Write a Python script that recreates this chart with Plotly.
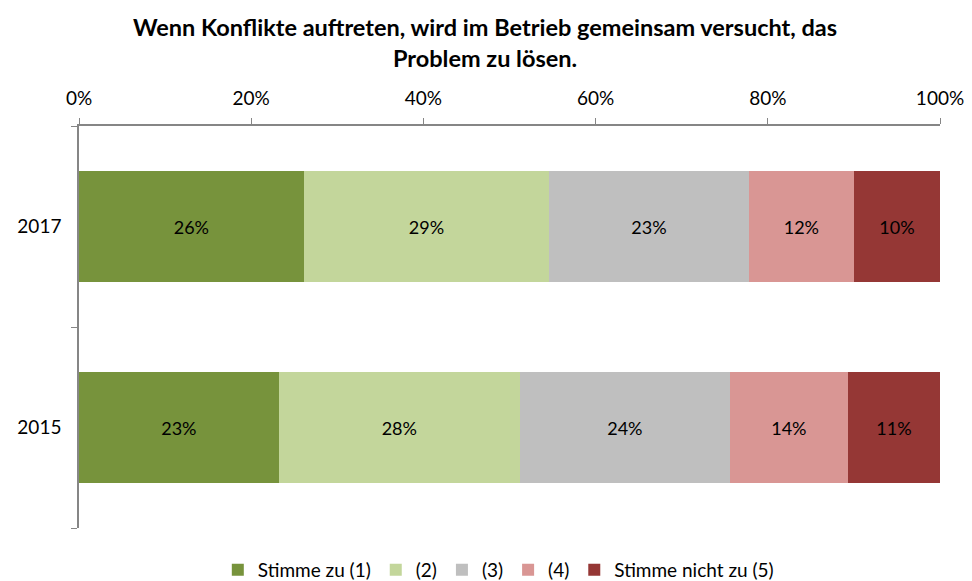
import plotly.graph_objects as go

years = ["2015", "2017"]
series_names = ["Stimme zu (1)", "(2)", "(3)", "(4)", "Stimme nicht zu (5)"]
values = {
    "Stimme zu (1)": [23.2, 26.1],
    "(2)": [28.0, 28.5],
    "(3)": [24.4, 23.2],
    "(4)": [13.7, 12.2],
    "Stimme nicht zu (5)": [10.7, 10.0],
}
labels = {
    "Stimme zu (1)": ["23%", "26%"],
    "(2)": ["28%", "29%"],
    "(3)": ["24%", "23%"],
    "(4)": ["14%", "12%"],
    "Stimme nicht zu (5)": ["11%", "10%"],
}
colors = ["#77933C", "#C3D69B", "#BFBFBF", "#D99694", "#953735"]
x_ticks = [0, 20, 40, 60, 80, 100]
title_text = "<b>Wenn Konflikte auftreten, wird im Betrieb gemeinsam versucht, das<br>Problem zu lösen.</b>"

font_family = "Lato, 'Open Sans', sans-serif"

fig = go.Figure()
for name, col in zip(series_names, colors):
    fig.add_trace(go.Bar(
        y=years, x=values[name], name=name, orientation="h",
        marker=dict(color=col, line=dict(width=0)),
        text=labels[name], textposition="inside", insidetextanchor="middle",
        textfont=dict(color="black", size=18, family=font_family),
        hoverinfo="skip",
    ))

fig.update_layout(
    barmode="stack",
    bargap=0.445,
    width=972, height=581,
    paper_bgcolor="white", plot_bgcolor="white",
    font=dict(family=font_family, color="black", size=18),
    margin=dict(l=71, r=40, t=118, b=61, autoexpand=False),
    legend=dict(
        orientation="h", x=0.487, xanchor="center",
        yref="container", y=0.033, yanchor="middle",
        font=dict(size=19, family=font_family), traceorder="normal",
        itemwidth=30,
    ),
    uniformtext=dict(mode="show", minsize=10),
    annotations=[dict(
        text=title_text, xref="paper", yref="paper", x=0.472, y=1.208,
        xanchor="center", yanchor="middle", showarrow=False,
        font=dict(size=23.5, family=font_family, color="black"),
    )],
)
fig.update_xaxes(
    side="top", range=[0, 100], tickvals=x_ticks,
    ticktext=[f"{v}%" for v in x_ticks],
    showgrid=False, zeroline=False, automargin=False,
    showline=True, linecolor="#868686", linewidth=1.5,
    ticks="outside", ticklen=6, tickcolor="#868686",
    ticklabelstandoff=6,
    tickfont=dict(size=19, family=font_family),
)
fig.update_yaxes(
    type="category", categoryorder="array", categoryarray=years,
    range=[-0.5, 1.5],
    showgrid=False, zeroline=False, automargin=False,
    showline=True, linecolor="#868686", linewidth=1.5,
    ticks="outside", ticklen=6, tickcolor="#868686", tickson="boundaries",
    ticklabelstandoff=12,
    tickfont=dict(size=19, family=font_family),
)

fig.write_html("out.html")
